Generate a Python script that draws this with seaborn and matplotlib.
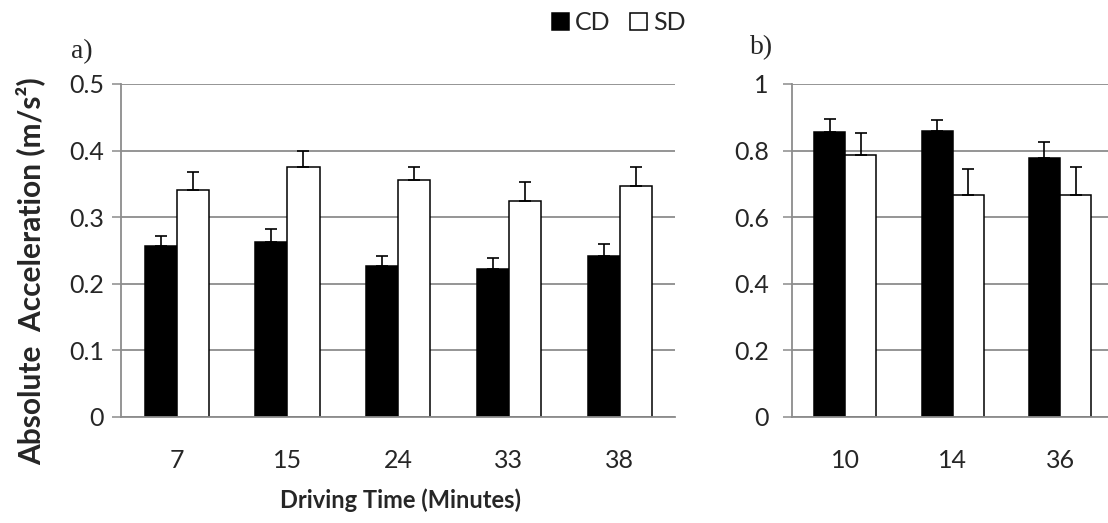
import numpy as np
import pandas as pd
import matplotlib
matplotlib.use("Agg")
import matplotlib.pyplot as plt
import matplotlib.ticker as mticker
import seaborn as sns

# panel a) data
left_times = ["7", "15", "24", "33", "38"]
left_cd = [0.257, 0.262, 0.226, 0.222, 0.242]
left_cd_err = [0.015, 0.020, 0.016, 0.016, 0.017]
left_sd = [0.340, 0.376, 0.355, 0.324, 0.346]
left_sd_err = [0.028, 0.023, 0.021, 0.028, 0.029]

# panel b) data
right_times = ["10", "14", "36"]
right_cd = [0.856, 0.860, 0.779]
right_cd_err = [0.039, 0.032, 0.047]
right_sd = [0.787, 0.667, 0.666]
right_sd_err = [0.066, 0.077, 0.084]

GROUPS = ["CD", "SD"]
GRID = "#8c8c8c"

sns.set_style("white")
plt.rcParams["font.family"] = ["Lato", "DejaVu Sans"]


def draw_panel(ax, times, cd, sd, cd_err, sd_err, ymax, ystep, ypad):
    df = pd.DataFrame({
        "time": times * 2,
        "group": ["CD"] * len(times) + ["SD"] * len(times),
        "value": list(cd) + list(sd),
    })
    sns.barplot(
        data=df, x="time", y="value", hue="group", order=times,
        hue_order=GROUPS, palette={"CD": "black", "SD": "white"},
        edgecolor="black", linewidth=1.1, width=0.58, errorbar=None, ax=ax,
    )
    # upper-only error bars on top of each bar
    for container, errs in zip(ax.containers, [cd_err, sd_err]):
        xs = [b.get_x() + b.get_width() / 2 for b in container]
        ys = [b.get_height() for b in container]
        ax.errorbar(xs, ys, yerr=[np.zeros(len(errs)), errs], fmt="none",
                    ecolor="black", elinewidth=1.2, capsize=4.5, capthick=1.2,
                    zorder=3)

    n = len(times)
    ax.set_xlim(-0.5, n - 0.5)
    ax.set_ylim(0, ymax)
    ax.set_xticks(np.arange(-0.5, n, 1.0))
    ax.set_xticklabels([""] * (n + 1))
    ax.set_xticks(np.arange(n), minor=True)
    ax.set_xticklabels(times, minor=True)
    ax.tick_params(axis="x", which="major", length=10, width=1.1, color=GRID)
    ax.tick_params(axis="x", which="minor", length=0, pad=23, labelsize=18)
    ax.yaxis.set_major_locator(mticker.MultipleLocator(ystep))
    ax.yaxis.set_major_formatter(mticker.FormatStrFormatter("%g"))
    ax.tick_params(axis="y", length=6.5, width=1.1, color=GRID, pad=ypad,
                   labelsize=18, left=True)
    ax.grid(axis="y", color=GRID, linewidth=1.3)
    ax.set_axisbelow(True)
    for side in ["top", "right"]:
        ax.spines[side].set_visible(False)
    for side in ["left", "bottom"]:
        ax.spines[side].set_color(GRID)
        ax.spines[side].set_linewidth(1.3)
    ax.set_xlabel("")
    ax.set_ylabel("")
    handles, labels = ax.get_legend_handles_labels()
    if ax.get_legend() is not None:
        ax.get_legend().remove()
    return handles, labels


fig = plt.figure(figsize=(11.08, 5.23), dpi=100)
ax_a = fig.add_axes([121.3 / 1108, 1 - 416.7 / 523, 553.7 / 1108, 332.7 / 523])
ax_b = fig.add_axes([791.7 / 1108, 1 - 416.7 / 523, 322.0 / 1108, 332.7 / 523])

handles, labels = draw_panel(ax_a, left_times, left_cd, left_sd,
                             left_cd_err, left_sd_err, 0.5, 0.1, 6)
draw_panel(ax_b, right_times, right_cd, right_sd,
           right_cd_err, right_sd_err, 1.0, 0.2, 10)

fig.legend(handles, labels, loc="center", bbox_to_anchor=(619 / 1108, 1 - 23 / 523),
           ncol=2, frameon=False, fontsize=18, handlelength=0.65,
           handleheight=0.65, handletextpad=0.25, columnspacing=0.8)

fig.text(82 / 1108, 1 - 52 / 523, "a)", family="Liberation Serif", fontsize=20,
         ha="center", va="center")
fig.text(762 / 1108, 1 - 48 / 523, "b)", family="Liberation Serif", fontsize=20,
         ha="center", va="center")

fig.text(400 / 1108, 1 - 500 / 523, "Driving Time (Minutes)", fontsize=17,
         fontweight="bold", ha="center", va="center")
fig.text(30 / 1108, 1 - 271 / 523, "Absolute  Acceleration (m/s\u00b2)",
         fontsize=21.5, fontweight="bold", rotation=90, ha="center", va="center")

fig.savefig("out.png", dpi=100)
